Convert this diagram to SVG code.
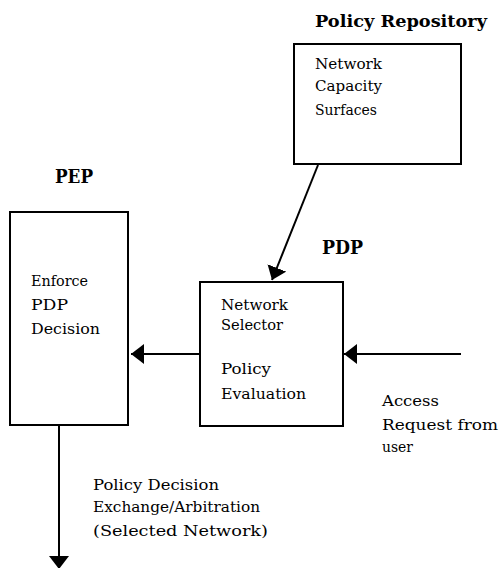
<svg xmlns="http://www.w3.org/2000/svg" width="501" height="568" viewBox="0 0 501 568">
  <defs>
    <marker id="arr" viewBox="0 0 13 20" refX="13" refY="10" markerWidth="13" markerHeight="20" markerUnits="userSpaceOnUse" orient="auto">
      <path d="M0,0 L13,10 L0,20 z" fill="#000"/>
    </marker>
  </defs>
  <style>
    .box { fill: #fff; stroke: #000; stroke-width: 2; }
    text { font-family: 'DejaVu Serif', 'Liberation Serif', 'Times New Roman', serif; fill: #000; }
    .t { font-size: 15px; }
    .h { font-weight: bold; }
    .c { stroke: #000; stroke-width: 2; fill: none; marker-end: url(#arr); }
  </style>
  <rect width="501" height="568" fill="#fff"/>

  <g id="policy-repository">
    <text class="h" x="315" y="27" font-size="16" textLength="172" lengthAdjust="spacingAndGlyphs">Policy Repository</text>
    <rect class="box" x="294" y="44" width="167" height="120"/>
    <text class="t" x="315" y="69" textLength="67" lengthAdjust="spacingAndGlyphs">Network</text>
    <text class="t" x="315" y="91" textLength="67" lengthAdjust="spacingAndGlyphs">Capacity</text>
    <text class="t" x="315" y="115" textLength="62" lengthAdjust="spacingAndGlyphs">Surfaces</text>
  </g>

  <g id="pep">
    <text class="h" x="55" y="183" font-size="18" textLength="38" lengthAdjust="spacingAndGlyphs">PEP</text>
    <rect class="box" x="10" y="212" width="118" height="213"/>
    <text class="t" x="31" y="286" textLength="57" lengthAdjust="spacingAndGlyphs">Enforce</text>
    <text class="t" x="31" y="310" textLength="37" lengthAdjust="spacingAndGlyphs">PDP</text>
    <text class="t" x="31" y="334" textLength="69" lengthAdjust="spacingAndGlyphs">Decision</text>
  </g>

  <g id="pdp">
    <text class="h" x="322" y="254" font-size="18" textLength="41" lengthAdjust="spacingAndGlyphs">PDP</text>
    <rect class="box" x="200" y="282" width="143" height="144"/>
    <text class="t" x="221" y="310" textLength="67" lengthAdjust="spacingAndGlyphs">Network</text>
    <text class="t" x="221" y="330" textLength="62" lengthAdjust="spacingAndGlyphs">Selector</text>
    <text class="t" x="221" y="374" textLength="50" lengthAdjust="spacingAndGlyphs">Policy</text>
    <text class="t" x="221" y="399" textLength="85" lengthAdjust="spacingAndGlyphs">Evaluation</text>
  </g>

  <g id="access-request">
    <text class="t" x="382" y="406" font-size="17" textLength="57" lengthAdjust="spacingAndGlyphs">Access</text>
    <text class="t" x="382" y="430" font-size="17" textLength="116" lengthAdjust="spacingAndGlyphs">Request from</text>
    <text class="t" x="382" y="452" font-size="17" textLength="31" lengthAdjust="spacingAndGlyphs">user</text>
  </g>

  <g id="decision-label">
    <text class="t" x="93" y="490" textLength="126" lengthAdjust="spacingAndGlyphs">Policy Decision</text>
    <text class="t" x="93" y="512" textLength="167" lengthAdjust="spacingAndGlyphs">Exchange/Arbitration</text>
    <text class="t" x="93" y="536" font-size="19" textLength="175" lengthAdjust="spacingAndGlyphs">(Selected Network)</text>
  </g>

  <g id="connectors">
    <line class="c" x1="318" y1="165" x2="272" y2="280"/>
    <line class="c" x1="199" y1="354" x2="131" y2="354"/>
    <line class="c" x1="461" y1="354" x2="344" y2="354"/>
    <line class="c" x1="59" y1="425" x2="59" y2="569"/>
  </g>
</svg>
